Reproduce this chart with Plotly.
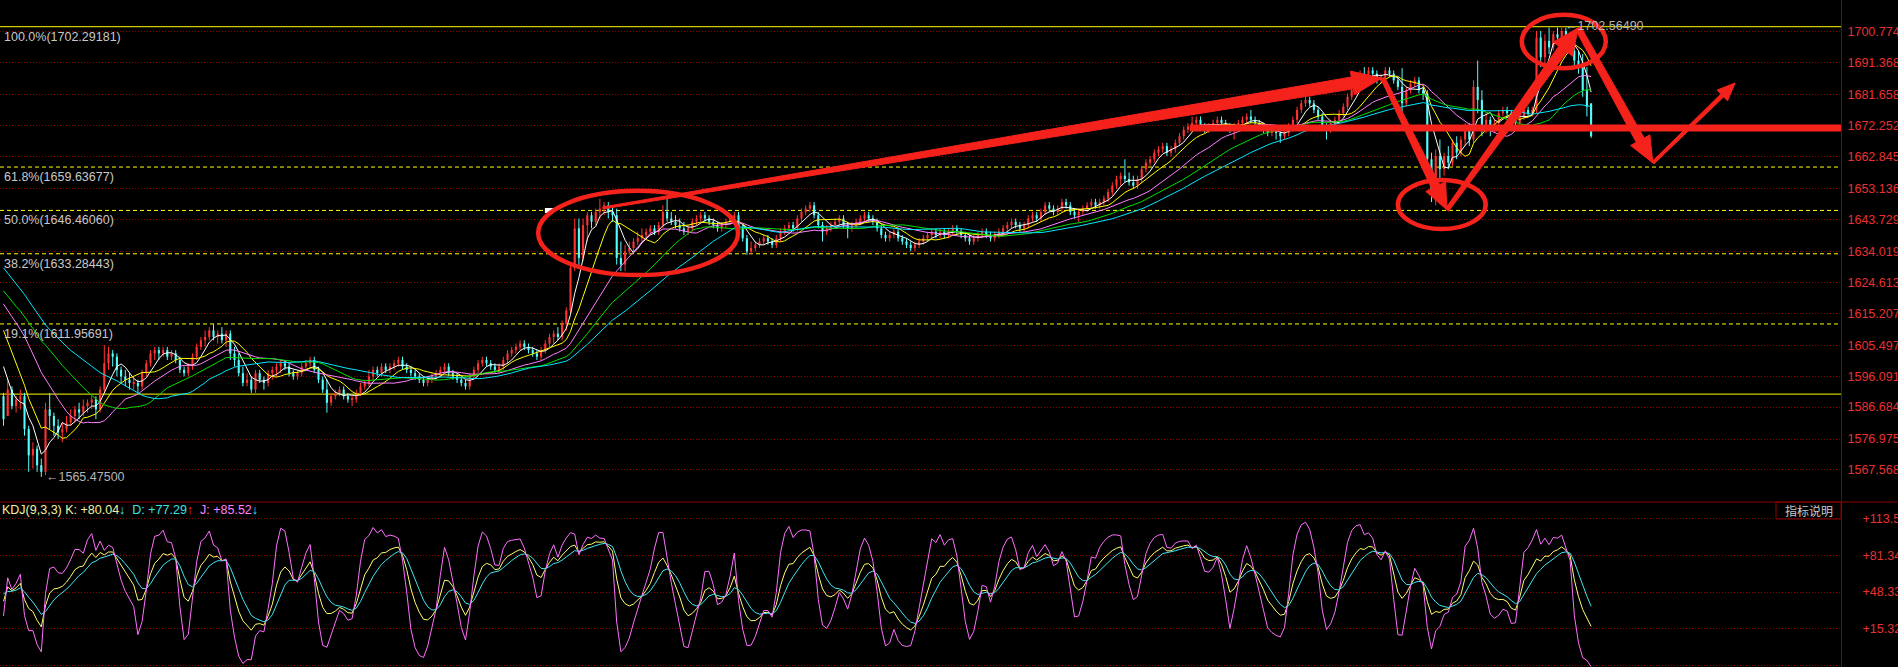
import math
import numpy as np
import plotly.graph_objects as go

# ---------------- data ----------------
OPEN = [
1590,1584,1592,1587,1589,1590,1580,1572,1574,1569,
1567,1586,1584,1581,1579,1580,1582,1584,1586,1585,
1587,1588,1589,1586,1592,1600,1603,1602,1598,1596,
1595,1594,1594,1593,1597,1600,1603,1604,1603,1604,
1602,1603,1601,1598,1597,1599,1602,1605,1607,1608,
1610,1608,1609,1607,1609,1603,1601,1597,1594,1595,
1592,1597,1595,1594,1597,1598,1599,1600,1599,1597,
1596,1597,1599,1600,1601,1598,1595,1592,1588,1590,
1591,1592,1590,1589,1589,1591,1593,1594,1596,1598,
1597,1599,1598,1599,1600,1601,1599,1598,1597,1596,
1595,1594,1595,1596,1597,1598,1599,1597,1596,1595,
1594,1593,1596,1598,1600,1601,1600,1599,1598,1599,
1601,1603,1604,1605,1606,1605,1604,1603,1602,1604,
1606,1608,1609,1608,1612,1616,1629,1641,1632,1642,
1645,1643,1646,1647,1648,1646,1645,1632,1630,1634,
1635,1637,1638,1639,1640,1641,1640,1642,1646,1644,
1643,1642,1641,1640,1641,1643,1644,1645,1644,1643,
1642,1641,1642,1643,1644,1645,1641,1638,1634,1635,
1636,1637,1638,1637,1636,1638,1640,1641,1642,1641,
1644,1646,1647,1648,1645,1642,1640,1641,1642,1643,
1644,1642,1641,1642,1643,1644,1645,1644,1643,1641,
1639,1638,1639,1640,1638,1637,1636,1635,1636,1637,
1638,1639,1640,1639,1640,1639,1640,1641,1640,1639,
1638,1637,1638,1639,1640,1639,1638,1639,1640,1641,
1642,1643,1642,1641,1642,1644,1645,1644,1646,1648,
1647,1646,1647,1649,1648,1646,1645,1646,1647,1648,
1649,1648,1649,1650,1652,1654,1656,1657,1656,1655,
1654,1656,1659,1661,1662,1664,1665,1666,1664,1665,
1667,1669,1671,1672,1673,1674,1672,1671,1672,1673,
1674,1673,1672,1671,1672,1673,1674,1675,1674,1673,
1672,1671,1670,1671,1670,1669,1670,1672,1674,1677,
1679,1680,1679,1677,1675,1672,1671,1673,1674,1676,
1678,1681,1683,1685,1688,1687,1689,1688,1686,1687,
1689,1688,1686,1684,1679,1683,1685,1686,1683,1682,
1662,1651,1663,1659,1663,1661,1667,1664,1668,1671,
1668,1684,1680,1672,1674,1671,1673,1676,1677,1676,
1674,1673,1675,1677,1676,1677,1699,1693,1698,1696,
1700,1699,1701,1697,1695,1692,1690,1683,1679]
HIGH = [
1591,1595,1593,1590,1592,1591,1581,1576,1575,1571,
1588,1591,1585,1583,1582,1584,1586,1587,1588,1589,
1589,1590,1590,1593,1605.5,1605,1604,1603,1599,1598,
1597,1596,1595,1598,1601,1604,1605,1605,1605,1605,
1604,1604,1602,1599,1600,1603,1606,1608,1610,1611,
1612,1610,1611,1610,1610,1605,1603,1599,1597,1596,
1598,1598,1596,1598,1599,1600,1601,1601,1600,1598,
1598,1600,1601,1602,1602,1599,1596,1595,1591,1592,
1593,1593,1591,1590,1592,1594,1595,1598,1599,1599,
1600,1600,1600,1601,1602,1602,1600,1599,1598,1597,
1596,1596,1597,1598,1599,1600,1600,1598,1597,1596,
1595,1597,1599,1601,1602,1602,1601,1600,1600,1602,
1604,1605,1606,1607,1607,1606,1605,1604,1605,1607,
1609,1610,1611,1613,1617,1630,1644,1644,1644,1646,
1646,1647,1650,1649,1649,1648,1647,1637,1636,1637,
1638,1640,1641,1641,1642,1642,1643,1648,1651,1646,
1645,1644,1643,1642,1644,1645,1646,1646,1645,1644,
1643,1643,1644,1645,1646,1646,1642,1639,1637,1637,
1638,1639,1639,1638,1639,1641,1642,1643,1643,1645,
1647,1648,1649,1649,1646,1643,1642,1643,1644,1645,
1645,1643,1643,1644,1645,1646,1646,1645,1644,1642,
1640,1640,1641,1641,1639,1638,1637,1637,1638,1639,
1640,1641,1641,1641,1641,1641,1642,1642,1641,1640,
1639,1639,1640,1641,1641,1640,1640,1641,1642,1643,
1644,1644,1643,1643,1645,1646,1646,1647,1649,1649,
1648,1648,1650,1650,1649,1647,1647,1648,1649,1650,
1650,1650,1651,1653,1655,1657,1658,1662,1658,1657,
1657,1660,1662,1663,1665,1666,1667,1667,1666,1668,
1670,1672,1673,1675,1675,1675,1673,1673,1674,1675,
1675,1674,1673,1673,1674,1675,1676,1677,1675,1674,
1673,1672,1672,1672,1671,1671,1673,1675,1678,1680,
1681,1681,1680,1678,1676,1673,1674,1675,1677,1679,
1682,1684,1686,1689,1690,1690,1690,1689,1688,1690,
1690,1689,1687,1689.7,1684,1686,1687,1687,1684,1683,
1664,1665,1668,1664,1666,1668,1669,1669,1673,1673,
1686,1692,1683,1676,1675,1674,1677,1678,1678,1677,
1675,1676,1678,1678,1678,1701,1701,1700,1702,1701,
1702,1702.5649,1702,1700,1699,1695,1694,1690,1679]
LOW = [
1581,1584,1586,1585,1586,1578,1567,1568,1567,1565.475,
1566,1580,1578,1577,1576,1579,1581,1582,1583,1584,
1585,1586,1583,1585,1591,1598,1599,1596,1594,1593,
1592,1592,1591,1592,1596,1599,1601,1601,1602,1601,
1601,1600,1597,1596,1596,1598,1601,1604,1605,1607,
1607,1606,1606,1605,1601,1599,1596,1593,1593,1591,
1591,1594,1592,1593,1595,1596,1597,1598,1596,1595,
1595,1596,1598,1599,1597,1594,1591,1585,1587,1589,
1590,1589,1588,1587,1588,1590,1592,1593,1595,1596,
1596,1597,1597,1598,1599,1598,1597,1596,1595,1594,
1593,1593,1594,1595,1596,1597,1596,1595,1594,1593,
1592,1592,1595,1597,1599,1599,1598,1597,1597,1598,
1600,1602,1603,1604,1604,1603,1602,1601,1601,1603,
1605,1606,1607,1607,1610,1615,1628,1629,1631,1637,
1641,1642,1644,1645,1644,1643,1630,1628,1628,1633,
1634,1636,1637,1638,1639,1639,1639,1641,1643,1642,
1641,1640,1639,1639,1640,1642,1643,1643,1642,1641,
1640,1640,1641,1642,1643,1640,1637,1633,1633,1634,
1635,1636,1636,1635,1635,1637,1639,1640,1640,1640,
1643,1645,1646,1644,1641,1637,1639,1640,1641,1642,
1641,1638,1640,1641,1642,1643,1643,1642,1640,1638,
1637,1637,1638,1637,1636,1635,1634,1634,1635,1636,
1637,1638,1638,1638,1638,1638,1639,1639,1638,1637,
1636,1636,1637,1638,1638,1637,1637,1638,1639,1640,
1641,1641,1640,1640,1641,1643,1643,1643,1645,1646,
1645,1645,1646,1647,1645,1644,1643,1645,1646,1647,
1647,1647,1648,1649,1651,1653,1654,1655,1654,1653,
1653,1655,1658,1660,1661,1663,1664,1663,1663,1664,
1666,1668,1670,1671,1672,1671,1670,1670,1671,1672,
1672,1671,1670,1668,1671,1672,1673,1673,1672,1671,
1670,1669,1669,1668,1667,1668,1669,1671,1673,1676,
1678,1678,1676,1674,1671,1668,1670,1672,1673,1675,
1677,1680,1682,1684,1685,1686,1687,1685,1685,1686,
1687,1685,1683,1674,1678,1682,1684,1682,1680,1660,
1649,1648,1656,1657,1659,1660,1662,1663,1666,1666,
1667,1676,1669,1670,1669,1670,1672,1675,1675,1673,
1672,1672,1674,1675,1675,1676,1690,1691,1694,1695,
1697,1698,1696,1694,1690,1688,1681,1675,1668.5]
CLOSE = [
1583,1592,1587,1589,1590,1580,1572,1574,1569,1567,
1586,1584,1581,1579,1580,1582,1584,1586,1585,1587,
1588,1589,1586,1592,1600,1603,1602,1598,1596,1595,
1594,1594,1593,1597,1600,1603,1604,1603,1604,1602,
1603,1601,1598,1597,1599,1602,1605,1607,1608,1610,
1608,1609,1607,1609,1603,1601,1597,1594,1595,1592,
1597,1595,1594,1597,1598,1599,1600,1599,1597,1596,
1597,1599,1600,1601,1598,1595,1592,1588,1590,1591,
1592,1590,1589,1589,1591,1593,1594,1596,1598,1597,
1599,1598,1599,1600,1601,1599,1598,1597,1596,1595,
1594,1595,1596,1597,1598,1599,1597,1596,1595,1594,
1593,1596,1598,1600,1601,1600,1599,1598,1599,1601,
1603,1604,1605,1606,1605,1604,1603,1602,1604,1606,
1608,1609,1608,1612,1616,1629,1641,1632,1642,1645,
1643,1646,1647,1648,1646,1645,1632,1630,1634,1635,
1637,1638,1639,1640,1641,1640,1642,1646,1644,1643,
1642,1641,1640,1641,1643,1644,1645,1644,1643,1642,
1641,1642,1643,1644,1645,1641,1638,1634,1635,1636,
1637,1638,1637,1636,1638,1640,1641,1642,1641,1644,
1646,1647,1648,1645,1642,1640,1641,1642,1643,1644,
1642,1641,1642,1643,1644,1645,1644,1643,1641,1639,
1638,1639,1640,1638,1637,1636,1635,1636,1637,1638,
1639,1640,1639,1640,1639,1640,1641,1640,1639,1638,
1637,1638,1639,1640,1639,1638,1639,1640,1641,1642,
1643,1642,1641,1642,1644,1645,1644,1646,1648,1647,
1646,1647,1649,1648,1646,1645,1646,1647,1648,1649,
1648,1649,1650,1652,1654,1656,1657,1656,1655,1654,
1656,1659,1661,1662,1664,1665,1666,1664,1665,1667,
1669,1671,1672,1673,1674,1672,1671,1672,1673,1674,
1673,1672,1671,1672,1673,1674,1675,1674,1673,1672,
1671,1670,1671,1670,1669,1670,1672,1674,1677,1679,
1680,1679,1677,1675,1672,1671,1673,1674,1676,1678,
1681,1683,1685,1688,1687,1689,1688,1686,1687,1689,
1688,1686,1684,1679,1683,1685,1686,1683,1682,1662,
1651,1663,1659,1663,1661,1667,1664,1668,1671,1668,
1684,1680,1672,1674,1671,1673,1676,1677,1676,1674,
1673,1675,1677,1676,1677,1699,1693,1698,1696,1700,
1699,1701,1697,1695,1692,1690,1683,1678,1669]
# closes before the visible window (only feed the moving averages)
PRIOR_CLOSE = [1655,1652,1654,1650,1651,1648,1650,1647,1646,1647,
               1640,1636,1633,1631,1629,1630,1627,1625,1624,1625,
               1627,1629,1626,1628,1624,1626,1625,1627,1624,1624,
               1625,1623,1621,1619,1617,1612,1605,1599,1596]

MA_PERIODS = [5, 10, 20, 30, 40]
MA_COLORS = ["#FFFFFF", "#FFFF00", "#FF80FF", "#00E000", "#00E8FF"]

FIB_LEVELS = [1702.29181, 1659.63677, 1646.46060, 1633.28443, 1611.95691, 1590.62800]
FIB_LABELS = ["100.0%(1702.29181)", "61.8%(1659.63677)", "50.0%(1646.46060)",
              "38.2%(1633.28443)", "19.1%(1611.95691)", ""]
FIB_SOLID = [True, False, False, False, False, True]

PRICE_TICKS = [1710.181, 1700.774, 1691.368, 1681.658, 1672.252, 1662.845, 1653.136, 1643.729,
               1634.019, 1624.613, 1615.207, 1605.497, 1596.091, 1586.684, 1576.975, 1567.568]
PRICE_TICK_TEXT = ["1710.1810", "1700.7740", "1691.3683", "1681.6585", "1672.2521", "1662.8458",
                   "1653.1360", "1643.7297", "1634.0195", "1624.6130", "1615.2072", "1605.4974",
                   "1596.0911", "1586.6847", "1576.9750", "1567.5680"]
KDJ_TICKS = [114.35, 81.34, 48.33, 15.32, -17.69]
KDJ_TICK_TEXT = ["+113.5", "+81.34", "+48.33", "+15.32", ""]

LOW_MARK = (9, 1565.475, "←1565.47500")
HIGH_MARK = (371, 1702.5649, "←1702.56490")

# hand-drawn markup, in (bar index, price)
ELLIPSES = [((127.3, 1626.8), (174.9, 1652.4)),
            ((332.0, 1640.8), (352.9, 1655.7)),
            ((361.5, 1689.7), (381.5, 1705.9))]
# start, tip, shaft width start/end (px), head length, head width (px)
ARROWS = [((142.7, 1647.2), (328.2, 1686.7), 2, 12, 30, 24),
          ((328.4, 1686.7), (343.7, 1646.6), 4, 9, 26, 22),
          ((343.7, 1646.6), (374.9, 1701.9), 4, 10, 26, 24),
          ((374.9, 1701.9), (392.7, 1660.9), 6, 9, 26, 22),
          ((392.7, 1660.9), (412.3, 1685.2), 3, 4, 18, 15)]
HLINE = (282.5, 1671.5)

# ---------------- geometry ----------------
W, H = 1898, 667
PLOT_W = 1841
MAIN_H = 502
X_LO, X_HI = -0.833, 437.5
Y_LO, Y_HI = 1557.84, 1710.41
K_LO, K_HI = -19.13, 128.38

RED = "#FF3232"
CYAN = "#54FCFC"
DRAW = "#F5221B"
GRID = "#8B0000"
FONT = "Arial, Liberation Sans, sans-serif"

N = len(CLOSE)
xs = list(range(N))

allc = np.array(PRIOR_CLOSE + CLOSE, dtype=float)
P = len(PRIOR_CLOSE)

fig = go.Figure()

# candles: wicks + thin bodies
for up, col in [(True, RED), (False, CYAN)]:
    idx = [i for i in range(N) if (CLOSE[i] >= OPEN[i]) == up]
    wx, wy = [], []
    for i in idx:
        wx += [i, i, None]
        wy += [LOW[i], HIGH[i], None]
    fig.add_trace(go.Scatter(x=wx, y=wy, mode="lines", line=dict(color=col, width=1),
                             showlegend=False, hoverinfo="skip", xaxis="x", yaxis="y"))
    fig.add_trace(go.Bar(x=idx, y=[max(abs(CLOSE[i] - OPEN[i]), 0.35) for i in idx],
                         base=[min(CLOSE[i], OPEN[i]) for i in idx], width=0.5,
                         marker=dict(color=col, line=dict(width=0)),
                         showlegend=False, hoverinfo="skip", xaxis="x", yaxis="y"))

for per, col in zip(MA_PERIODS, MA_COLORS):
    ma = []
    for i in range(P, P + N):
        lo = max(0, i - per + 1)
        ma.append(allc[lo:i + 1].mean())
    fig.add_trace(go.Scatter(x=xs, y=ma, mode="lines", line=dict(color=col, width=1),
                             showlegend=False, hoverinfo="skip", xaxis="x", yaxis="y"))

# KDJ(9,3,3)
Hh, Ll, Cc = np.array(HIGH), np.array(LOW), np.array(CLOSE)
k = d = 50.0
KK, DD = [], []
for i in range(N):
    lo = Ll[max(0, i - 8):i + 1].min()
    hi = Hh[max(0, i - 8):i + 1].max()
    rsv = (Cc[i] - lo) / (hi - lo) * 100 if hi > lo else 50
    k = (2 * k + rsv) / 3
    d = (2 * d + k) / 3
    KK.append(k); DD.append(d)
KK, DD = np.array(KK), np.array(DD)
JJ = 3 * KK - 2 * DD
for ser, col in [(KK, "#FFFF70"), (DD, "#40E8F0"), (JJ, "#FF70FF")]:
    fig.add_trace(go.Scatter(x=xs, y=ser, mode="lines", line=dict(color=col, width=1),
                             showlegend=False, hoverinfo="skip", xaxis="x2", yaxis="y2"))

shapes = []
annotations = []

for lvl, lab, solid in zip(FIB_LEVELS, FIB_LABELS, FIB_SOLID):
    shapes.append(dict(type="line", xref="x domain", yref="y", x0=0, x1=1, y0=lvl, y1=lvl,
                       line=dict(color="#FFFF00", width=1, dash="solid" if solid else "4px,3px"),
                       layer="below"))
    if lab:
        annotations.append(dict(xref="x domain", yref="y", x=0.001, y=lvl, text=lab,
                                showarrow=False, xanchor="left", yanchor="top", yshift=-1,
                                font=dict(color="#C8C8C8", size=12.5, family=FONT)))

for (b, p, t), xs_ in [(LOW_MARK, 3), (HIGH_MARK, 1)]:
    annotations.append(dict(xref="x", yref="y", x=b, y=p, text=t, showarrow=False,
                            xanchor="left", yanchor="middle", xshift=xs_,
                            font=dict(color="#B4B4B4", size=12.5, family=FONT)))

# small white marker
shapes.append(dict(type="rect", xref="x", yref="y", x0=128.9, x1=130.8, y0=1645.7, y1=1647.2,
                   fillcolor="#FFFFFF", line=dict(width=0)))


def to_px(b, p):
    return ((b - X_LO) / (X_HI - X_LO) * PLOT_W, (Y_HI - p) / (Y_HI - Y_LO) * MAIN_H)


def to_data(x, y):
    return (X_LO + x / PLOT_W * (X_HI - X_LO), Y_HI - y / MAIN_H * (Y_HI - Y_LO))


def arrow_path(start, tip, w0, w1, hl, hw):
    x0, y0 = to_px(*start)
    x1, y1 = to_px(*tip)
    dx, dy = x1 - x0, y1 - y0
    L = math.hypot(dx, dy)
    ux, uy = dx / L, dy / L
    nx, ny = -uy, ux
    bx, by = x1 - ux * hl, y1 - uy * hl
    pts = [(x0 + nx * w0 / 2, y0 + ny * w0 / 2), (bx + nx * w1 / 2, by + ny * w1 / 2),
           (bx + nx * hw / 2, by + ny * hw / 2), (x1, y1),
           (bx - nx * hw / 2, by - ny * hw / 2), (bx - nx * w1 / 2, by - ny * w1 / 2),
           (x0 - nx * w0 / 2, y0 - ny * w0 / 2)]
    dpts = [to_data(*q) for q in pts]
    return "M " + " L ".join(f"{a:.3f},{c:.3f}" for a, c in dpts) + " Z"


for (a, b) in ELLIPSES:
    shapes.append(dict(type="circle", xref="x", yref="y", x0=a[0], x1=b[0], y0=a[1], y1=b[1],
                       line=dict(color=DRAW, width=4.5), layer="above"))
for s, t, w0, w1, hl, hw in ARROWS:
    shapes.append(dict(type="path", xref="x", yref="y", path=arrow_path(s, t, w0, w1, hl, hw),
                       fillcolor=DRAW, line=dict(color=DRAW, width=1), layer="above"))
shapes.append(dict(type="line", xref="x", yref="y", x0=HLINE[0], x1=X_HI, y0=HLINE[1], y1=HLINE[1],
                   line=dict(color=DRAW, width=7), layer="above"))

# pane separator and indicator button
sep_y = 1 - 502 / H
shapes.append(dict(type="line", xref="paper", yref="paper", x0=0, x1=W / PLOT_W, y0=sep_y, y1=sep_y,
                   line=dict(color=GRID, width=1)))
shapes.append(dict(type="rect", xref="paper", yref="paper", x0=1776 / PLOT_W, x1=1.0,
                   y0=1 - 519 / H, y1=sep_y, line=dict(color=GRID, width=1)))
annotations.append(dict(xref="paper", yref="paper", x=1808.5 / PLOT_W, y=1 - 510.5 / H,
                        text="指标说明", showarrow=False, xanchor="center", yanchor="middle",
                        font=dict(color="#C8C8C8", size=12, family="Noto Sans CJK SC")))

hdr = ("<span style='color:#F0F0A0'>KDJ(9,3,3) K: +80.04</span><span style='color:#40E0FF'><b>↓</b></span>"
       "&nbsp;&nbsp;<span style='color:#40E0E0'>D: +77.29</span><span style='color:#FF3030'><b>↑</b></span>"
       "&nbsp;&nbsp;<span style='color:#FF80FF'>J: +85.52</span><span style='color:#40E0FF'><b>↓</b></span>")
annotations.append(dict(xref="paper", yref="paper", x=0, y=1 - 510 / H, text=hdr, showarrow=False,
                        xanchor="left", yanchor="middle", font=dict(size=12.5, family=FONT)))

axis_font = dict(color="#E83030", size=12.5, family=FONT)
fig.update_layout(
    width=W, height=H, margin=dict(l=0, r=W - PLOT_W, t=0, b=0, pad=0),
    paper_bgcolor="#000000", plot_bgcolor="#000000", showlegend=False,
    hovermode=False, dragmode=False, barmode="overlay",
    xaxis=dict(domain=[0, 1], range=[X_LO, X_HI], anchor="y", showgrid=False, zeroline=False,
               showticklabels=False, showline=False, fixedrange=True),
    xaxis2=dict(domain=[0, 1], range=[X_LO, X_HI], anchor="y2", matches="x", showgrid=False,
                zeroline=False, showticklabels=False, showline=False, fixedrange=True),
    yaxis=dict(domain=[sep_y, 1], range=[Y_LO, Y_HI], side="right", anchor="x",
               tickmode="array", tickvals=PRICE_TICKS, ticktext=PRICE_TICK_TEXT,
               showgrid=True, gridcolor=GRID, griddash="1px,2px", gridwidth=1, zeroline=False,
               showline=True, linecolor=GRID, linewidth=1, ticks="", tickfont=axis_font,
               ticklabelstandoff=3, automargin=False, fixedrange=True),
    yaxis2=dict(domain=[0, 1 - 503 / H], range=[K_LO, K_HI], side="right", anchor="x2",
                tickmode="array", tickvals=KDJ_TICKS, ticktext=KDJ_TICK_TEXT,
                showgrid=True, gridcolor=GRID, griddash="1px,2px", gridwidth=1, zeroline=False,
                showline=True, linecolor=GRID, linewidth=1, ticks="", tickfont=axis_font,
                ticklabelstandoff=18, automargin=False, fixedrange=True),
    shapes=shapes, annotations=annotations,
)

fig.write_html("out.html", config={"displayModeBar": False},
               post_script="document.body.style.margin='0';document.body.style.overflow='hidden';")
